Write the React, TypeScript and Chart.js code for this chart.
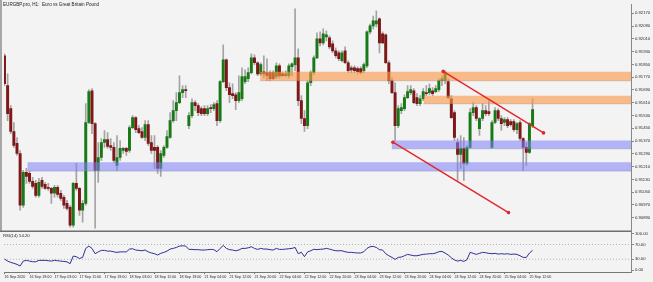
import React, { useEffect, useRef } from 'react';
import { Chart, registerables } from 'chart.js';

Chart.register(...registerables);

const TITLE = 'EURGBP.pro, H1:  Euro vs Great Britain Pound';
const RSI_LABEL = 'RSI(14) 54.20';

const timeLabels = [
  '16 Sep 2020', '16 Sep 19:00', '17 Sep 03:00', '17 Sep 11:00', '17 Sep 19:00', '18 Sep 03:00',
  '18 Sep 11:00', '18 Sep 19:00', '21 Sep 04:00', '21 Sep 12:00', '21 Sep 20:00', '22 Sep 04:00',
  '22 Sep 12:00', '22 Sep 20:00', '23 Sep 04:00', '23 Sep 12:00', '23 Sep 20:00', '24 Sep 04:00',
  '24 Sep 12:00', '24 Sep 20:00', '25 Sep 04:00', '25 Sep 12:00',
];
const BARS_PER_LABEL = 8;

const priceTicks = [
  0.9217, 0.9209, 0.9201, 0.9193, 0.9185, 0.9177, 0.9169, 0.9161, 0.9153,
  0.9145, 0.9137, 0.9129, 0.9121, 0.9113, 0.9105, 0.9097, 0.9089,
];
const rsiTicks = [100, 70, 30, 0];
const rsiLevels = [70, 30];

const open = [
  0.91904, 0.91717, 0.91573, 0.91430, 0.91355, 0.91292, 0.90968, 0.91174, 0.91168, 0.91118,
  0.91105, 0.91030, 0.91124, 0.91099, 0.91080, 0.91074, 0.91043, 0.91080, 0.91043, 0.91018,
  0.90980, 0.90955, 0.90843, 0.91105, 0.91074, 0.90937, 0.90980, 0.91486, 0.91685, 0.91479,
  0.91186, 0.91267, 0.91361, 0.91380, 0.91342, 0.91330, 0.91217, 0.91267, 0.91311, 0.91324,
  0.91311, 0.91454, 0.91517, 0.91448, 0.91430, 0.91392, 0.91473, 0.91361, 0.91330, 0.91330,
  0.91199, 0.91280, 0.91330, 0.91392, 0.91498, 0.91561, 0.91611, 0.91673, 0.91692, 0.91467,
  0.91529, 0.91611, 0.91592, 0.91573, 0.91573, 0.91542, 0.91579, 0.91573, 0.91604, 0.91498,
  0.91742, 0.91879, 0.91704, 0.91667, 0.91660, 0.91623, 0.91635, 0.91742, 0.91760, 0.91798,
  0.91891, 0.91860, 0.91791, 0.91804, 0.91798, 0.91798, 0.91798, 0.91773, 0.91841, 0.91791,
  0.91779, 0.91779, 0.91835, 0.91848, 0.91891, 0.91623, 0.91511, 0.91467, 0.91735, 0.91798,
  0.91891, 0.92010, 0.91985, 0.92022, 0.92016, 0.91979, 0.91935, 0.91922, 0.91873, 0.91935,
  0.91860, 0.91829, 0.91829, 0.91823, 0.91823, 0.91810, 0.91841, 0.92054, 0.92091, 0.92103,
  0.92135, 0.92041, 0.92035, 0.91860, 0.91748, 0.91673, 0.91467, 0.91561, 0.91573, 0.91642,
  0.91673, 0.91685, 0.91642, 0.91604, 0.91635, 0.91673, 0.91673, 0.91685, 0.91679, 0.91692,
  0.91748, 0.91748, 0.91742, 0.91635, 0.91548, 0.91361, 0.91286, 0.91324, 0.91230, 0.91330,
  0.91548, 0.91579, 0.91448, 0.91511, 0.91561, 0.91554, 0.91330, 0.91486, 0.91561, 0.91511,
  0.91486, 0.91504, 0.91492, 0.91492, 0.91442, 0.91486, 0.91386, 0.91330, 0.91299, 0.91467,
];
const high = [
  0.91916, 0.91791, 0.91592, 0.91486, 0.91392, 0.91311, 0.91186, 0.91199, 0.91180, 0.91143,
  0.91124, 0.91136, 0.91143, 0.91111, 0.91105, 0.91080, 0.91093, 0.91093, 0.91061, 0.91030,
  0.90999, 0.90968, 0.91111, 0.91230, 0.91080, 0.90999, 0.91604, 0.91692, 0.91698, 0.91486,
  0.91361, 0.91386, 0.91436, 0.91423, 0.91386, 0.91361, 0.91405, 0.91373, 0.91330, 0.91330,
  0.91467, 0.91529, 0.91523, 0.91467, 0.91454, 0.91498, 0.91498, 0.91405, 0.91405, 0.91342,
  0.91311, 0.91342, 0.91436, 0.91548, 0.91623, 0.91673, 0.91779, 0.91717, 0.91717, 0.91548,
  0.91635, 0.91623, 0.91604, 0.91586, 0.91592, 0.91592, 0.91598, 0.91611, 0.91623, 0.91748,
  0.91972, 0.91885, 0.91735, 0.91729, 0.91673, 0.91779, 0.91829, 0.91816, 0.91829, 0.91916,
  0.91910, 0.91866, 0.91860, 0.91904, 0.91885, 0.91810, 0.91810, 0.91860, 0.91854, 0.91804,
  0.91810, 0.91854, 0.91860, 0.92197, 0.91947, 0.91654, 0.91561, 0.91748, 0.91810, 0.91904,
  0.92047, 0.92054, 0.92072, 0.92060, 0.92029, 0.91997, 0.91954, 0.91935, 0.91935, 0.91960,
  0.91873, 0.91841, 0.91841, 0.91835, 0.91835, 0.91860, 0.92060, 0.92103, 0.92153, 0.92185,
  0.92141, 0.92054, 0.92041, 0.91873, 0.91766, 0.91735, 0.91592, 0.91604, 0.91660, 0.91717,
  0.91717, 0.91698, 0.91667, 0.91654, 0.91698, 0.91717, 0.91729, 0.91704, 0.91717, 0.91760,
  0.91779, 0.91810, 0.91760, 0.91654, 0.91561, 0.91386, 0.91405, 0.91392, 0.91342, 0.91573,
  0.91611, 0.91592, 0.91517, 0.91604, 0.91592, 0.91623, 0.91498, 0.91579, 0.91573, 0.91529,
  0.91517, 0.91517, 0.91504, 0.91504, 0.91486, 0.91498, 0.91392, 0.91361, 0.91486, 0.91635,
];
const low = [
  0.91717, 0.91498, 0.91417, 0.91330, 0.91280, 0.90937, 0.90955, 0.91105, 0.91105, 0.91074,
  0.91018, 0.91018, 0.91074, 0.91068, 0.91061, 0.90980, 0.91018, 0.91018, 0.90999, 0.90949,
  0.90937, 0.90831, 0.90831, 0.91061, 0.90905, 0.90862, 0.90968, 0.91479, 0.91417, 0.90824,
  0.91111, 0.91249, 0.91330, 0.91324, 0.91311, 0.91236, 0.91186, 0.91249, 0.91292, 0.91280,
  0.91299, 0.91448, 0.91423, 0.91417, 0.91386, 0.91373, 0.91342, 0.91292, 0.91199, 0.91168,
  0.91149, 0.91267, 0.91324, 0.91386, 0.91486, 0.91498, 0.91604, 0.91642, 0.91642, 0.91448,
  0.91517, 0.91561, 0.91529, 0.91529, 0.91529, 0.91529, 0.91548, 0.91561, 0.91467, 0.91486,
  0.91735, 0.91685, 0.91611, 0.91635, 0.91567, 0.91611, 0.91623, 0.91729, 0.91742, 0.91791,
  0.91848, 0.91779, 0.91779, 0.91766, 0.91748, 0.91748, 0.91754, 0.91760, 0.91766, 0.91773,
  0.91773, 0.91766, 0.91779, 0.91810, 0.91592, 0.91479, 0.91430, 0.91448, 0.91717, 0.91785,
  0.91885, 0.91966, 0.91972, 0.91997, 0.91947, 0.91922, 0.91891, 0.91873, 0.91866, 0.91854,
  0.91798, 0.91798, 0.91798, 0.91791, 0.91791, 0.91798, 0.91829, 0.92041, 0.92072, 0.92085,
  0.91922, 0.91979, 0.91854, 0.91729, 0.91667, 0.91373, 0.91454, 0.91542, 0.91561, 0.91635,
  0.91660, 0.91604, 0.91592, 0.91592, 0.91623, 0.91654, 0.91660, 0.91654, 0.91673, 0.91679,
  0.91717, 0.91729, 0.91635, 0.91511, 0.91373, 0.91124, 0.91199, 0.91124, 0.91217, 0.91324,
  0.91529, 0.91498, 0.91405, 0.91498, 0.91529, 0.91529, 0.91324, 0.91479, 0.91498, 0.91436,
  0.91467, 0.91454, 0.91461, 0.91430, 0.91417, 0.91373, 0.91186, 0.91217, 0.91292, 0.91454,
];
const close = [
  0.91729, 0.91542, 0.91430, 0.91342, 0.91292, 0.90968, 0.91174, 0.91149, 0.91118, 0.91086,
  0.91030, 0.91111, 0.91086, 0.91074, 0.91074, 0.91043, 0.91080, 0.91036, 0.91011, 0.90968,
  0.90949, 0.90843, 0.91105, 0.91074, 0.90937, 0.90980, 0.91486, 0.91679, 0.91479, 0.91186,
  0.91267, 0.91361, 0.91380, 0.91336, 0.91330, 0.91249, 0.91267, 0.91324, 0.91324, 0.91305,
  0.91454, 0.91517, 0.91442, 0.91423, 0.91392, 0.91473, 0.91355, 0.91311, 0.91311, 0.91199,
  0.91292, 0.91330, 0.91398, 0.91498, 0.91561, 0.91611, 0.91673, 0.91692, 0.91685, 0.91529,
  0.91611, 0.91592, 0.91548, 0.91542, 0.91542, 0.91573, 0.91573, 0.91598, 0.91498, 0.91742,
  0.91879, 0.91704, 0.91660, 0.91654, 0.91623, 0.91673, 0.91773, 0.91773, 0.91798, 0.91891,
  0.91860, 0.91791, 0.91848, 0.91791, 0.91779, 0.91760, 0.91760, 0.91841, 0.91779, 0.91779,
  0.91791, 0.91841, 0.91854, 0.91891, 0.91623, 0.91511, 0.91467, 0.91735, 0.91798, 0.91891,
  0.92010, 0.91985, 0.92041, 0.92035, 0.91960, 0.91935, 0.91904, 0.91885, 0.91922, 0.91860,
  0.91810, 0.91816, 0.91810, 0.91804, 0.91798, 0.91848, 0.92054, 0.92091, 0.92122, 0.92122,
  0.91985, 0.91985, 0.91860, 0.91748, 0.91673, 0.91467, 0.91573, 0.91579, 0.91642, 0.91679,
  0.91692, 0.91611, 0.91604, 0.91635, 0.91679, 0.91667, 0.91698, 0.91667, 0.91698, 0.91748,
  0.91760, 0.91798, 0.91642, 0.91517, 0.91392, 0.91286, 0.91324, 0.91230, 0.91330, 0.91548,
  0.91579, 0.91511, 0.91511, 0.91561, 0.91542, 0.91542, 0.91486, 0.91561, 0.91511, 0.91479,
  0.91504, 0.91467, 0.91473, 0.91442, 0.91479, 0.91386, 0.91330, 0.91299, 0.91479, 0.91567,
];
const rsi = [
  30.5, 25, 21.5, 19, 16, 11.6, 25, 27, 25, 23.3,
  23, 27, 27, 27, 26, 25, 27, 26, 25, 24,
  23, 18, 38.6, 36.8, 32, 35, 59.4, 65.7, 59.4, 45,
  50, 54, 54, 52, 52, 50, 48.6, 50, 50, 50,
  57.6, 58.5, 55, 54, 53, 55, 50, 47, 45, 41.4,
  46, 48.6, 52, 57.6, 59.4, 62, 65.7, 66.6, 65.7, 56.7,
  56.7, 56, 56, 55, 55, 56, 56.7, 56, 50.4, 59.4,
  67.5, 59.4, 56, 55, 53, 55, 59.4, 59.4, 61, 63.9,
  59.4, 56.7, 59.4, 57.6, 57.6, 56, 55, 59.4, 56.7, 56.7,
  57.6, 58.5, 59.4, 62, 45, 49, 37, 50, 53, 57,
  56, 57, 57.6, 59.4, 57.6, 55, 53, 53, 53, 50.4,
  48.6, 48.6, 47.7, 47, 47, 50.4, 59.4, 63.9, 64.8, 62,
  56, 55, 45, 39.5, 35, 29.6, 35, 36, 39.5, 43.2,
  41.4, 39.5, 39.5, 41.4, 43.2, 44, 45, 45, 46.8, 50.4,
  51.3, 46.8, 41.4, 34, 28, 25, 27, 24, 28.7, 48.6,
  46, 43.2, 46, 48.6, 47.7, 46, 45, 46, 44, 45,
  44, 45, 43.2, 44, 43.2, 39.5, 35, 35, 46.8, 54.2,
];

// horizontal zones: start bar, top price, bottom price, kind
const zoneStart = [81.8, 134.1, 123.9, 7.3];
const zoneTop = [0.91804, 0.91654, 0.91373, 0.91238];
const zoneBottom = [0.91748, 0.91604, 0.91322, 0.91182];
const zoneKind = ['supply', 'supply', 'demand', 'demand'];

// trend lines (bar position, price)
const trendX1 = [140.4, 124.3];
const trendP1 = [0.91806, 0.91363];
const trendX2 = [172.5, 161.3];
const trendP2 = [0.91421, 0.90922];

const X_MIN = -0.16;
const X_MAX = 200.5;
const P_MIN = 0.90806;
const P_MAX = 0.92228;
const R_MIN = -4.6;
const R_MAX = 106.2;

const FONT = 'Liberation Sans, Arial, sans-serif';
const BG = '#f3f3f3';
const UP = '#177a17';
const DOWN = '#7e1717';
const WICK = '#a3a3a3';
const ZONE_COLOR: Record<string, string> = {
  supply: 'rgba(250,150,70,0.62)',
  demand: 'rgba(125,125,250,0.55)',
};
const ZONE_SHADOW = 'rgba(110,110,110,0.28)';

const decor = {
  id: 'decor',
  beforeDraw(chart: any) {
    const c = chart.ctx;
    const y = chart.scales.y;
    c.save();
    c.fillStyle = BG;
    c.fillRect(0, 0, chart.width, chart.height);
    c.fillStyle = '#a6a6a6';
    c.fillRect(0, 0, 2, y.bottom);
    c.restore();
  },
  afterDraw(chart: any) {
    const c = chart.ctx;
    const y = chart.scales.y;
    const r = chart.scales.yRsi;
    const area = chart.chartArea;
    c.save();
    c.strokeStyle = '#6f6f6f';
    c.lineWidth = 1.5;
    c.beginPath();
    c.moveTo(0, y.bottom);
    c.lineTo(area.right, y.bottom);
    c.stroke();
    c.fillStyle = '#1e1e1e';
    c.font = `4.6px ${FONT}`;
    c.textBaseline = 'middle';
    c.textAlign = 'left';
    c.fillText(TITLE, 3, 5);
    c.font = `4.3px ${FONT}`;
    c.fillText(RSI_LABEL, 3, r.top + 4.5);
    c.restore();
  },
};

export default function App() {
  const ref = useRef<HTMLCanvasElement>(null);

  useEffect(() => {
    document.body.style.margin = '0';
    document.body.style.background = BG;
    const canvas = ref.current;
    if (!canvas) return;

    const idx = open.map((_, i) => i);
    const bodyColors = idx.map((i) => (close[i] >= open[i] ? UP : DOWN));

    const zoneSets = zoneStart.map((s, k) => ({
      type: 'line' as const,
      yAxisID: 'y',
      data: [
        { x: s, y: zoneTop[k] },
        { x: X_MAX, y: zoneTop[k] },
      ],
      fill: { value: zoneBottom[k] },
      backgroundColor: ZONE_COLOR[zoneKind[k]],
      borderColor: 'transparent',
      borderWidth: 0,
      pointRadius: 0,
      order: 2,
    }));

    const shadowSets = zoneStart.map((s, k) => ({
      type: 'line' as const,
      yAxisID: 'y',
      data: [
        { x: s, y: zoneBottom[k] },
        { x: X_MAX, y: zoneBottom[k] },
      ],
      borderColor: ZONE_SHADOW,
      borderWidth: 1.2,
      pointRadius: 0,
      fill: false,
      order: 2,
    }));

    const trendSets = trendX1.map((x1, k) => ({
      type: 'line' as const,
      yAxisID: 'y',
      data: [
        { x: x1, y: trendP1[k] },
        { x: trendX2[k], y: trendP2[k] },
      ],
      borderColor: '#e3262b',
      borderWidth: 1.4,
      pointRadius: 1.8,
      pointBackgroundColor: '#e3262b',
      pointBorderWidth: 0,
      fill: false,
      order: 1,
    }));

    const levelSets = rsiLevels.map((lv) => ({
      type: 'line' as const,
      yAxisID: 'yRsi',
      data: [
        { x: X_MIN, y: lv },
        { x: X_MAX, y: lv },
      ],
      borderColor: '#b4b4b4',
      borderWidth: 1,
      borderDash: [1, 2],
      pointRadius: 0,
      fill: false,
      order: 6,
    }));

    const chart = new Chart(canvas, {
      type: 'bar',
      data: {
        datasets: [
          {
            type: 'bar',
            yAxisID: 'y',
            data: idx.map((i) => ({ x: i, y: [low[i], high[i]] })) as any,
            backgroundColor: WICK,
            barThickness: 1,
            grouped: false,
            order: 5,
          } as any,
          {
            type: 'bar',
            yAxisID: 'y',
            data: idx.map((i) => ({ x: i, y: [open[i], close[i]] })) as any,
            backgroundColor: bodyColors,
            barThickness: 2.3,
            minBarLength: 1,
            grouped: false,
            order: 4,
          } as any,
          ...zoneSets,
          ...shadowSets,
          ...trendSets,
          ...levelSets,
          {
            type: 'line',
            yAxisID: 'yRsi',
            data: idx.map((i) => ({ x: i, y: rsi[i] })),
            borderColor: '#2f2f96',
            borderWidth: 1,
            pointRadius: 0,
            fill: false,
            order: 3,
          } as any,
        ],
      },
      options: {
        responsive: false,
        devicePixelRatio: 1,
        animation: false,
        events: [],
        layout: { padding: { left: 3, top: 3, right: 0, bottom: 0 } },
        plugins: {
          legend: { display: false },
          tooltip: { enabled: false },
          title: { display: false },
        },
        scales: {
          x: {
            type: 'linear',
            position: 'bottom',
            min: X_MIN,
            max: X_MAX,
            offset: false,
            afterBuildTicks: (s: any) => {
              s.ticks = timeLabels.map((_, k) => ({ value: k * BARS_PER_LABEL }));
            },
            afterFit: (s: any) => {
              s.height = 10;
              s.paddingLeft = 0;
              s.paddingRight = 0;
            },
            ticks: {
              autoSkip: false,
              maxRotation: 0,
              minRotation: 0,
              align: 'start',
              padding: 0.5,
              color: '#2a2a2a',
              font: { family: FONT, size: 3.7 },
              callback: (_v: any, k: number) => timeLabels[k],
            },
            grid: { drawOnChartArea: false, tickLength: 2, color: '#777', offset: false },
            border: { color: '#777', width: 1 },
          },
          y: {
            type: 'linear',
            position: 'right',
            stack: 'pane',
            stackWeight: 228,
            min: P_MIN,
            max: P_MAX,
            afterBuildTicks: (s: any) => {
              s.ticks = priceTicks.map((v) => ({ value: v }));
            },
            afterFit: (s: any) => {
              s.width = 22;
              s.paddingTop = 0;
              s.paddingBottom = 0;
            },
            ticks: {
              autoSkip: false,
              padding: 1,
              color: '#2a2a2a',
              font: { family: FONT, size: 4.2 },
              callback: (v: any) => Number(v).toFixed(5),
            },
            grid: { drawOnChartArea: false, tickLength: 3, color: '#888' },
            border: { color: '#888', width: 1 },
          },
          yRsi: {
            type: 'linear',
            position: 'right',
            stack: 'pane',
            stackWeight: 41,
            min: R_MIN,
            max: R_MAX,
            afterBuildTicks: (s: any) => {
              s.ticks = rsiTicks.map((v) => ({ value: v }));
            },
            afterFit: (s: any) => {
              s.width = 22;
              s.paddingTop = 0;
              s.paddingBottom = 0;
            },
            ticks: {
              autoSkip: false,
              padding: 1,
              color: '#2a2a2a',
              font: { family: FONT, size: 4.2 },
              callback: (v: any) => Number(v).toFixed(2),
            },
            grid: { drawOnChartArea: false, tickLength: 3, color: '#888' },
            border: { color: '#888', width: 1 },
          },
        },
      } as any,
      plugins: [decor],
    });

    return () => chart.destroy();
  }, []);

  return (
    <canvas
      ref={ref}
      width={653}
      height={282}
      style={{ display: 'block', width: 653, height: 282 }}
    />
  );
}
